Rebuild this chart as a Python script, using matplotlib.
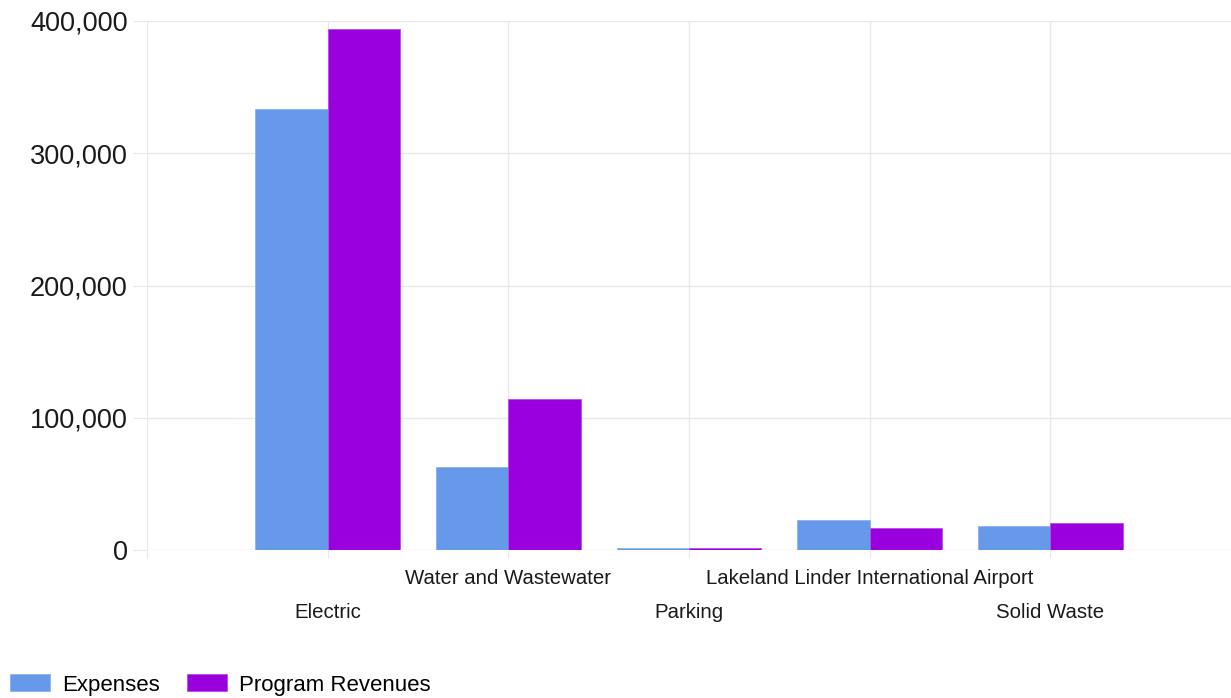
import numpy as np
import matplotlib.pyplot as plt
from matplotlib.ticker import FuncFormatter
from matplotlib.transforms import blended_transform_factory

plt.rcParams['font.family'] = ['Liberation Sans', 'DejaVu Sans']

categories = ["Electric", "Water and Wastewater", "Parking",
              "Lakeland Linder International Airport", "Solid Waste"]
expenses = [333500, 62800, 1400, 22700, 18100]
revenues = [394000, 114200, 1300, 16600, 20400]

c_exp = '#6799EB'
c_rev = '#9A00DE'
grid_c = '#e8e8e8'

fig = plt.figure(figsize=(12.31, 6.98), dpi=100)
ax = fig.add_axes([147/1231, 1 - 550/698, 1 - 147/1231, (550 - 21)/698])

x = np.arange(len(categories))
w = 0.4
ax.bar(x - w/2, expenses, w, color=c_exp, edgecolor='#8fb3f0', linewidth=0.6,
       label='Expenses', zorder=3)
ax.bar(x + w/2, revenues, w, color=c_rev, edgecolor='#b64fe8', linewidth=0.6,
       label='Program Revenues', zorder=3)

ax.set_xlim(-1, 5)
ax.set_ylim(0, 400000)
ax.set_yticks([0, 100000, 200000, 300000, 400000])
ax.yaxis.set_major_formatter(FuncFormatter(lambda v, p: f'{int(v):,}'))
ax.set_xticks(np.arange(-1, 5))
ax.set_xticklabels([])
ax.grid(True, color=grid_c, linewidth=1, zorder=0)
for s in ax.spines.values():
    s.set_visible(False)
ax.tick_params(axis='y', length=10, color=grid_c, labelsize=19.5, pad=4,
               labelcolor='#1a1a1a')
ax.tick_params(axis='x', length=6, color=grid_c)

# staggered category labels
tr = blended_transform_factory(ax.transData, fig.transFigure)
for i, name in enumerate(categories):
    yy = 1 - (613 if i % 2 == 0 else 579) / 698
    ax.text(i, yy, name, transform=tr, ha='center', va='center',
            fontsize=14.7, color='#1a1a1a')

ax.legend(loc='center left', bbox_to_anchor=(10/1231, 1 - 685/698),
          bbox_transform=fig.transFigure, ncol=2, frameon=False, fontsize=16,
          handlelength=1.8, handleheight=0.8, columnspacing=1.2,
          handletextpad=0.55, borderaxespad=0, borderpad=0)

fig.savefig('out.png', dpi=100)
